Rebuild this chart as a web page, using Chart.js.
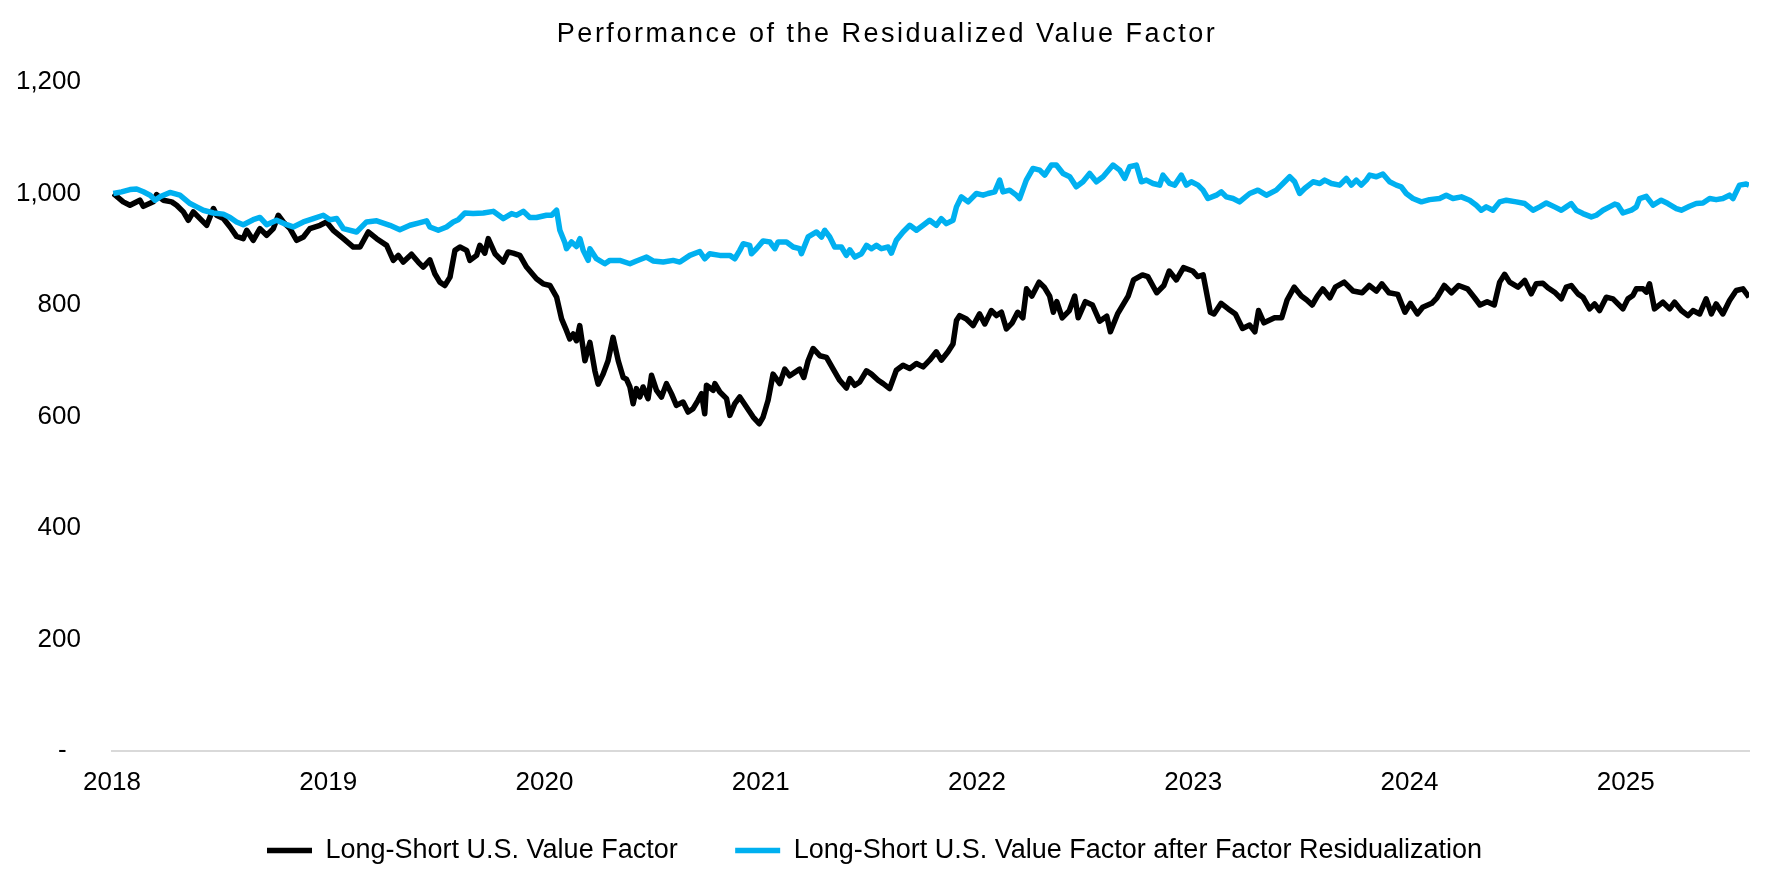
<!DOCTYPE html>
<html lang="en">
<head>
<meta charset="UTF-8">
<title>Performance of the Residualized Value Factor</title>
<style>
    html, body {
        margin: 0;
        padding: 0;
        background: #ffffff;
    }

    .chart-box {
        width: 1772px;
        height: 886px;
    }
</style>
<script src="https://cdn.jsdelivr.net/npm/chart.js"></script>
</head>
<body>

<div class="chart-box"><canvas id="perfChart"></canvas></div>

<script>
    const chartTitle = 'Performance of the Residualized Value Factor';
    const seriesNames = [
        'Long-Short U.S. Value Factor',
        'Long-Short U.S. Value Factor after Factor Residualization'
    ];

    const yearTicks = [2018, 2019, 2020, 2021, 2022, 2023, 2024, 2025];
    const valueTicks = [0, 200, 400, 600, 800, 1000, 1200];
    const valueTickLabels = ['-', '200', '400', '600', '800', '1,000', '1,200'];

    // Long-short value factor (black), x = fractional year
    const valueDates = [
        2018.006, 2018.052, 2018.083, 2018.129, 2018.145, 2018.191, 2018.206, 2018.237, 2018.276, 2018.299,
        2018.330, 2018.353, 2018.376, 2018.422, 2018.438, 2018.469, 2018.484, 2018.515, 2018.546, 2018.576,
        2018.607, 2018.623, 2018.653, 2018.684, 2018.715, 2018.746, 2018.769, 2018.792, 2018.823, 2018.854,
        2018.885, 2018.915, 2018.962, 2018.992, 2019.023, 2019.070, 2019.116, 2019.147, 2019.185, 2019.224,
        2019.270, 2019.301, 2019.324, 2019.347, 2019.385, 2019.416, 2019.439, 2019.470, 2019.493, 2019.516,
        2019.539, 2019.563, 2019.586, 2019.609, 2019.640, 2019.655, 2019.686, 2019.701, 2019.724, 2019.740,
        2019.771, 2019.809, 2019.832, 2019.855, 2019.886, 2019.917, 2019.963, 2019.994, 2020.025, 2020.056,
        2020.079, 2020.102, 2020.117, 2020.133, 2020.148, 2020.163, 2020.187, 2020.210, 2020.233, 2020.248,
        2020.271, 2020.294, 2020.317, 2020.341, 2020.364, 2020.379, 2020.395, 2020.410, 2020.425, 2020.441,
        2020.456, 2020.479, 2020.495, 2020.518, 2020.541, 2020.564, 2020.587, 2020.610, 2020.641, 2020.664,
        2020.687, 2020.710, 2020.726, 2020.741, 2020.749, 2020.780, 2020.788, 2020.811, 2020.842, 2020.857,
        2020.880, 2020.903, 2020.934, 2020.965, 2020.993, 2021.011, 2021.034, 2021.057, 2021.088, 2021.111,
        2021.134, 2021.180, 2021.199, 2021.219, 2021.242, 2021.273, 2021.304, 2021.335, 2021.365, 2021.396,
        2021.412, 2021.435, 2021.458, 2021.489, 2021.512, 2021.543, 2021.566, 2021.596, 2021.627, 2021.658,
        2021.689, 2021.720, 2021.751, 2021.781, 2021.812, 2021.835, 2021.866, 2021.889, 2021.905, 2021.920,
        2021.951, 2021.982, 2022.012, 2022.036, 2022.066, 2022.090, 2022.113, 2022.136, 2022.163, 2022.188,
        2022.212, 2022.229, 2022.254, 2022.287, 2022.311, 2022.336, 2022.353, 2022.369, 2022.394, 2022.427,
        2022.452, 2022.468, 2022.501, 2022.534, 2022.567, 2022.600, 2022.617, 2022.650, 2022.699, 2022.724,
        2022.765, 2022.790, 2022.831, 2022.864, 2022.889, 2022.922, 2022.955, 2022.997, 2023.021, 2023.046,
        2023.079, 2023.096, 2023.129, 2023.162, 2023.195, 2023.228, 2023.261, 2023.285, 2023.302, 2023.327,
        2023.376, 2023.409, 2023.434, 2023.467, 2023.500, 2023.525, 2023.550, 2023.574, 2023.599, 2023.632,
        2023.657, 2023.698, 2023.739, 2023.781, 2023.814, 2023.847, 2023.872, 2023.905, 2023.946, 2023.979,
        2024.004, 2024.037, 2024.061, 2024.103, 2024.127, 2024.161, 2024.194, 2024.227, 2024.268, 2024.301,
        2024.326, 2024.359, 2024.392, 2024.417, 2024.440, 2024.463, 2024.502, 2024.533, 2024.563, 2024.586,
        2024.617, 2024.640, 2024.671, 2024.702, 2024.725, 2024.748, 2024.779, 2024.802, 2024.833, 2024.856,
        2024.879, 2024.910, 2024.941, 2024.964, 2024.987, 2025.010, 2025.033, 2025.049, 2025.080, 2025.095,
        2025.110, 2025.133, 2025.172, 2025.203, 2025.226, 2025.257, 2025.288, 2025.311, 2025.342, 2025.372,
        2025.396, 2025.418, 2025.449, 2025.480, 2025.511, 2025.542, 2025.570
    ];
    const valueLevels = [
        1000, 985, 979, 988, 977, 985, 998, 988, 985, 979,
        967, 952, 967, 949, 943, 973, 961, 955, 940, 923,
        919, 934, 916, 937, 925, 937, 961, 949, 937, 916,
        922, 937, 943, 949, 934, 919, 904, 904, 931, 919,
        907, 880, 889, 877, 891, 877, 868, 881, 856, 841,
        835, 850, 898, 904, 898, 880, 889, 907, 893, 919,
        892, 877, 895, 893, 889, 868, 847, 838, 835, 814,
        775, 754, 739, 748, 736, 763, 700, 733, 682, 658,
        676, 700, 742, 700, 670, 667, 653, 623, 650, 635,
        653, 632, 674, 647, 635, 659, 641, 620, 626, 608,
        614, 629, 641, 605, 656, 647, 659, 644, 632, 602,
        623, 635, 617, 599, 587, 599, 629, 676, 659, 685,
        673, 685, 670, 700, 722, 709, 706, 685, 665, 651,
        668, 656, 662, 682, 676, 665, 659, 650, 683, 692,
        686, 695, 689, 701, 716, 701, 716, 730, 772, 781,
        775, 763, 784, 766, 790, 781, 787, 757, 768, 787,
        777, 829, 816, 841, 832, 816, 787, 806, 777, 790,
        816, 777, 806, 800, 771, 780, 752, 784, 816, 845,
        854, 851, 822, 835, 861, 845, 867, 861, 851, 854,
        787, 784, 803, 793, 784, 758, 764, 752, 790, 768,
        777, 777, 809, 832, 816, 809, 800, 816, 829, 813,
        832, 841, 825, 822, 835, 825, 838, 822, 819, 787,
        803, 784, 796, 803, 813, 835, 822, 835, 829, 813,
        800, 806, 800, 841, 855, 841, 832, 844, 820, 838,
        839, 831, 823, 811, 832, 835, 820, 814, 793, 802,
        790, 814, 811, 802, 793, 811, 817, 829, 829, 823,
        838, 793, 805, 793, 805, 790, 781, 790, 784, 811,
        784, 802, 784, 808, 826, 829, 814
    ];

    // Same factor after residualization (blue)
    const residDates = [
        2018.006, 2018.044, 2018.083, 2018.114, 2018.145, 2018.176, 2018.199, 2018.222, 2018.268, 2018.314,
        2018.361, 2018.392, 2018.422, 2018.469, 2018.515, 2018.546, 2018.576, 2018.607, 2018.653, 2018.684,
        2018.715, 2018.761, 2018.808, 2018.838, 2018.885, 2018.931, 2018.977, 2019.008, 2019.039, 2019.070,
        2019.131, 2019.177, 2019.224, 2019.285, 2019.331, 2019.378, 2019.416, 2019.455, 2019.470, 2019.509,
        2019.547, 2019.578, 2019.601, 2019.632, 2019.670, 2019.717, 2019.763, 2019.809, 2019.848, 2019.871,
        2019.902, 2019.932, 2019.963, 2020.009, 2020.033, 2020.056, 2020.071, 2020.094, 2020.102, 2020.125,
        2020.148, 2020.164, 2020.179, 2020.202, 2020.210, 2020.240, 2020.279, 2020.302, 2020.348, 2020.395,
        2020.425, 2020.472, 2020.502, 2020.549, 2020.595, 2020.626, 2020.672, 2020.718, 2020.741, 2020.764,
        2020.811, 2020.857, 2020.880, 2020.903, 2020.919, 2020.949, 2020.957, 2020.980, 2021.011, 2021.042,
        2021.065, 2021.080, 2021.119, 2021.150, 2021.180, 2021.188, 2021.219, 2021.258, 2021.281, 2021.296,
        2021.319, 2021.342, 2021.373, 2021.396, 2021.412, 2021.435, 2021.466, 2021.489, 2021.512, 2021.535,
        2021.558, 2021.589, 2021.604, 2021.627, 2021.658, 2021.689, 2021.720, 2021.751, 2021.781, 2021.812,
        2021.835, 2021.858, 2021.889, 2021.905, 2021.928, 2021.959, 2021.997, 2022.028, 2022.051, 2022.082,
        2022.105, 2022.120, 2022.151, 2022.182, 2022.197, 2022.228, 2022.259, 2022.290, 2022.313, 2022.344,
        2022.367, 2022.398, 2022.429, 2022.459, 2022.490, 2022.521, 2022.552, 2022.583, 2022.629, 2022.660,
        2022.683, 2022.706, 2022.737, 2022.760, 2022.783, 2022.814, 2022.845, 2022.860, 2022.891, 2022.914,
        2022.945, 2022.968, 2022.991, 2023.022, 2023.045, 2023.068, 2023.107, 2023.130, 2023.153, 2023.184,
        2023.214, 2023.261, 2023.299, 2023.338, 2023.384, 2023.415, 2023.446, 2023.469, 2023.492, 2023.515,
        2023.554, 2023.585, 2023.608, 2023.639, 2023.677, 2023.708, 2023.731, 2023.754, 2023.777, 2023.800,
        2023.816, 2023.847, 2023.877, 2023.908, 2023.939, 2023.962, 2023.985, 2024.016, 2024.055, 2024.093,
        2024.139, 2024.170, 2024.201, 2024.240, 2024.278, 2024.309, 2024.332, 2024.355, 2024.386, 2024.417,
        2024.448, 2024.494, 2024.533, 2024.571, 2024.602, 2024.633, 2024.671, 2024.702, 2024.725, 2024.748,
        2024.771, 2024.802, 2024.841, 2024.864, 2024.895, 2024.925, 2024.949, 2024.964, 2024.987, 2025.026,
        2025.049, 2025.064, 2025.095, 2025.126, 2025.164, 2025.195, 2025.234, 2025.257, 2025.295, 2025.326,
        2025.357, 2025.388, 2025.418, 2025.449, 2025.480, 2025.496, 2025.526, 2025.557, 2025.570
    ];
    const residLevels = [
        1000, 1003, 1007, 1008, 1003, 997, 988, 994, 1002, 997,
        982, 976, 970, 965, 963, 957, 949, 944, 953, 957,
        944, 952, 944, 940, 949, 955, 961, 953, 955, 937,
        931, 949, 951, 943, 935, 943, 947, 951, 940, 934,
        940, 949, 953, 965, 964, 965, 968, 955, 964, 961,
        968, 957, 957, 961, 961, 970, 934, 912, 901, 913,
        905, 919, 898, 880, 901, 883, 874, 880, 880, 874,
        879, 886, 879, 877, 880, 877, 889, 896, 883, 892,
        889, 889, 883, 898, 910, 907, 892, 901, 915, 913,
        901, 913, 913, 904, 901, 892, 922, 931, 922, 934,
        922, 904, 904, 889, 899, 886, 892, 907, 901, 907,
        901, 904, 893, 916, 931, 943, 934, 943, 952, 943,
        955, 946, 952, 976, 994, 985, 1000, 997, 1000, 1003,
        1024, 1003, 1006, 997, 991, 1024, 1045, 1042, 1033, 1051,
        1051, 1036, 1030, 1012, 1021, 1036, 1021, 1030, 1051, 1042,
        1027, 1048, 1051, 1021, 1024, 1018, 1015, 1033, 1018, 1015,
        1033, 1015, 1021, 1015, 1006, 991, 997, 1003, 994, 991,
        985, 1000, 1006, 997, 1006, 1018, 1030, 1021, 1000, 1009,
        1021, 1018, 1024, 1018, 1015, 1027, 1015, 1024, 1015, 1024,
        1033, 1030, 1035, 1021, 1015, 1012, 1000, 991, 985, 989,
        991, 997, 991, 994, 988, 979, 970, 976, 970, 985,
        988, 985, 982, 970, 976, 983, 976, 970, 976, 982,
        970, 964, 958, 961, 970, 976, 981, 979, 965, 970,
        976, 991, 995, 979, 988, 982, 973, 970, 977, 982,
        983, 991, 989, 991, 997, 991, 1015, 1017, 1015
    ];

    const toPoints = (xs, ys) => xs.map((x, i) => ({ x: x, y: ys[i] }));

    Chart.defaults.font.family = '"Liberation Sans", Arial, sans-serif';
    Chart.defaults.color = '#000000';

    // title drawn by hand so it can get the wide letter spacing of the original
    const spacedTitle = {
        id: 'spacedTitle',
        afterDraw(chart) {
            const ctx = chart.ctx;
            ctx.save();
            ctx.font = '27px "Liberation Sans", Arial, sans-serif';
            ctx.fillStyle = '#000000';
            ctx.textAlign = 'center';
            ctx.textBaseline = 'alphabetic';
            ctx.letterSpacing = '2.5px';
            ctx.fillText(chartTitle, chart.width / 2 + 1, 42);
            ctx.restore();
        }
    };

    const ctx = document.getElementById('perfChart').getContext('2d');
    new Chart(ctx, {
        type: 'line',
        data: {
            datasets: [
                {
                    // en space at the end widens the gap before the second legend entry
                    label: seriesNames[0] + '\u2002',
                    data: toPoints(valueDates, valueLevels),
                    borderColor: '#000000',
                    backgroundColor: '#000000',
                    borderWidth: 5.5,
                    borderJoinStyle: 'round',
                    pointRadius: 0,
                    tension: 0,
                    order: 1
                },
                {
                    label: seriesNames[1],
                    data: toPoints(residDates, residLevels),
                    borderColor: '#00B0F0',
                    backgroundColor: '#00B0F0',
                    borderWidth: 5.5,
                    borderJoinStyle: 'round',
                    pointRadius: 0,
                    tension: 0,
                    order: 0
                }
            ]
        },
        options: {
            responsive: true,
            maintainAspectRatio: false,
            animation: false,
            layout: {
                padding: { top: 82, right: 23, bottom: 12, left: 0 }
            },
            scales: {
                x: {
                    type: 'linear',
                    min: 2018,
                    max: 2025.57,
                    afterBuildTicks: s => { s.ticks = yearTicks.map(v => ({ value: v })); },
                    afterFit: s => { s.height = 42; },
                    grid: { display: false, drawTicks: false },
                    border: { display: true, color: '#d9d9d9', width: 2 },
                    ticks: {
                        padding: 16,
                        autoSkip: false,
                        maxRotation: 0,
                        font: { size: 26 },
                        callback: v => String(v)
                    }
                },
                y: {
                    min: 0,
                    max: 1200,
                    afterBuildTicks: s => { s.ticks = valueTicks.map(v => ({ value: v })); },
                    afterFit: s => { s.width = 112; },
                    grid: { display: false, drawTicks: false },
                    border: { display: false },
                    ticks: {
                        padding: 31,
                        font: { size: 26 },
                        callback: v => {
                            const label = valueTickLabels[valueTicks.indexOf(v)];
                            return label === '-' ? '-  ' : label;
                        }
                    }
                }
            },
            plugins: {
                title: { display: false },
                tooltip: { enabled: false },
                legend: {
                    position: 'bottom',
                    labels: {
                        usePointStyle: true,
                        pointStyle: 'line',
                        pointStyleWidth: 45,
                        padding: 44,
                        font: { size: 27 },
                        sort: (a, b) => a.datasetIndex - b.datasetIndex
                    }
                }
            }
        },
        plugins: [spacedTitle]
    });
</script>

</body>
</html>
